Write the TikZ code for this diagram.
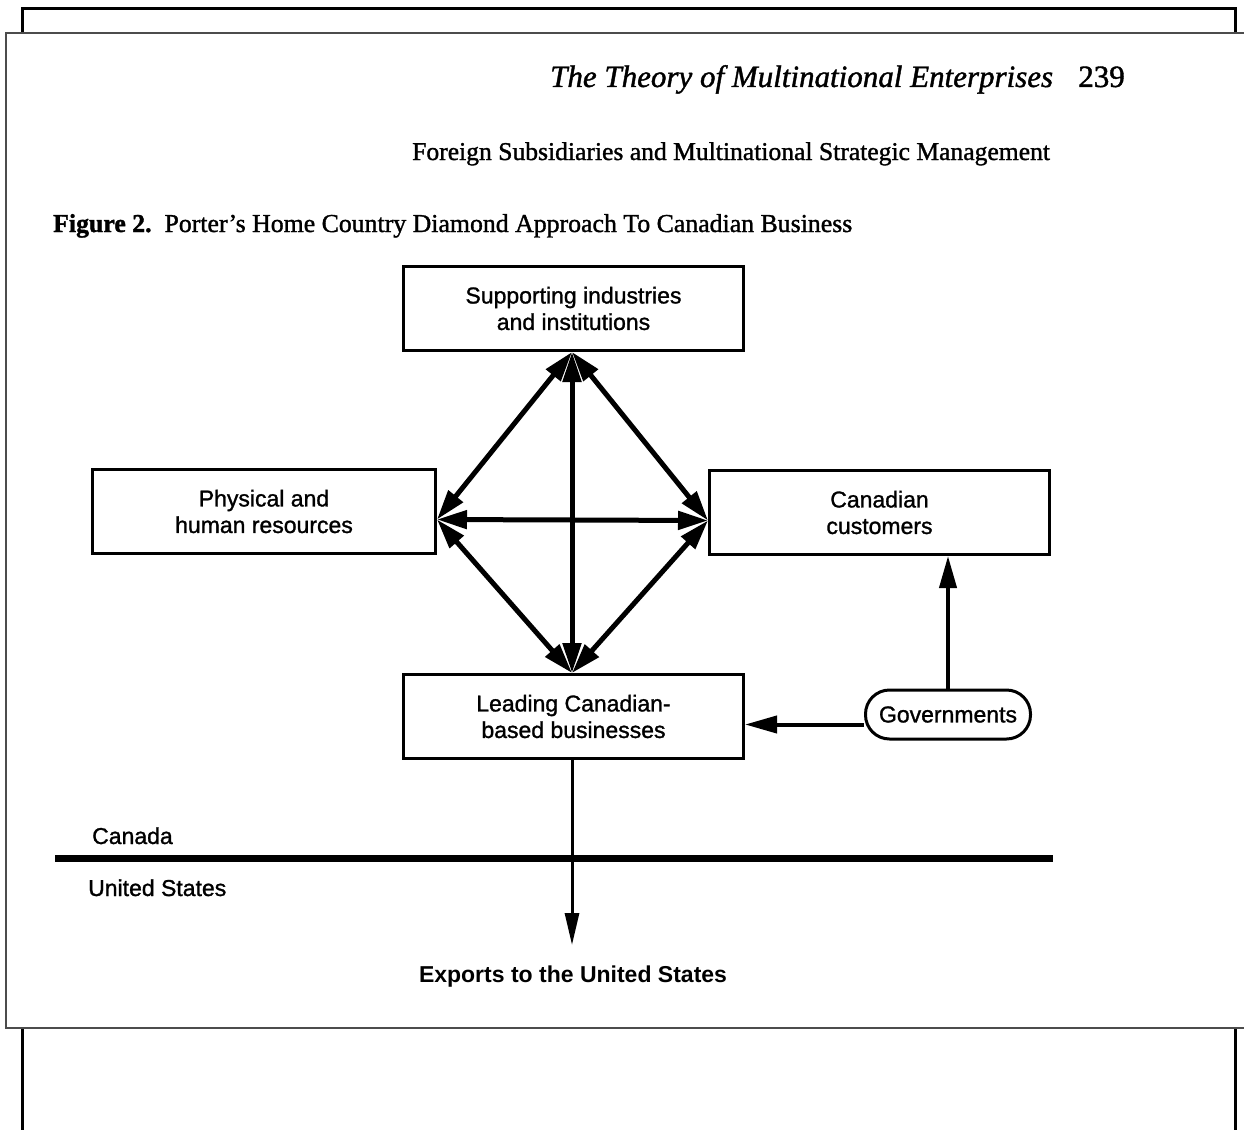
\documentclass[tikz,border=0pt]{standalone}
\usepackage{fontspec}
\setmainfont{Liberation Serif}
\setsansfont{Liberation Sans}
\newfontfamily\scanserif{Liberation Serif}[FakeBold=1.3]
\newfontfamily\scansans{Liberation Sans}[FakeBold=1.2]
\usetikzlibrary{arrows.meta,calc}
\begin{document}
\begin{tikzpicture}[x=1pt,y=-1pt,
  sfont/.style={font=\scansans\fontsize{23}{26.5}\selectfont},
  box/.style={draw,line width=3pt,minimum width=340pt,minimum height=84pt,inner sep=0pt,align=center,sfont},
  pill/.style={draw,line width=3pt,rounded corners=24pt,minimum width=165pt,minimum height=49pt,inner sep=0pt,sfont},
  dbl/.style={line width=5pt,{Triangle[length=30pt,width=18pt]}-{Triangle[length=30pt,width=18pt]}},
  sgl/.style={line width=4pt,-{Triangle[length=32pt,width=17pt]}},
  lbl/.style={sfont,inner sep=0pt}
]
\useasboundingbox (0,0) rectangle (1244,1129);
% page frames
\draw[line width=3pt] (22,1140) -- (22,8.5) -- (1235,8.5) -- (1235,1140);
\draw[gray!60!black,line width=2pt,fill=white] (6,33) rectangle (1252,1028);
% headings
\node[anchor=base west,inner sep=0pt,font=\scanserif\fontsize{31}{31}\selectfont\itshape] (runhead) at (550,87) {The Theory of Multinational Enterprises};
\node[anchor=base east,inner sep=0pt,font=\scanserif\fontsize{31}{31}\selectfont] (pageno) at (1125,87) {239};
\node[anchor=base west,inner sep=0pt,font=\scanserif\fontsize{25.6}{25.6}\selectfont] (sect) at (412,160) {Foreign Subsidiaries and Multinational Strategic Management};
\node[anchor=base west,inner sep=0pt,font=\scanserif\fontsize{25.8}{25.8}\selectfont] (cap) at (53,232) {\textbf{Figure 2.}\ \ Porter’s Home Country Diamond Approach To Canadian Business};
% boxes
\node[box] (top) at (573.5,308.5) {Supporting industries\\and institutions};
\node[box,minimum width=343pt] (left) at (264,511.5) {Physical and\\human resources};
\node[box] (right) at (879.5,512.5) {Canadian\\customers};
\node[box] (bot) at (573.5,716.5) {Leading Canadian-\\based businesses};
\node[pill] (gov) at (948,714.5) {Governments};
% diamond points
\coordinate (pT) at ([xshift=-1.5pt]top.south);
\coordinate (pL) at ([yshift=-8pt]left.east);
\coordinate (pR) at ([yshift=-8pt]right.west);
\coordinate (pB) at ([xshift=-1.5pt]bot.north);
\draw[dbl] (pT) -- (pL);
\draw[dbl] (pT) -- (pR);
\draw[dbl] (pT) -- (pB);
\draw[dbl] (pL) -- (pR);
\draw[dbl] (pL) -- (pB);
\draw[dbl] (pR) -- (pB);
% governments
\draw[sgl] ([yshift=-10pt]gov.west) -- ([yshift=-10pt]gov.west -| bot.east);
\draw[sgl] (gov.north) -- (gov.north |- right.south);
% border
\draw[line width=7pt] (55,858) -- (1053,858);
\node[lbl,anchor=base west] (canada) at (92,844) {Canada};
\node[lbl,anchor=base west] (us) at (88,896) {United States};
\node[lbl,anchor=base,font=\sffamily\bfseries\fontsize{23}{26.5}\selectfont] (exports) at (573,982) {Exports to the United States};
\coordinate (exTip) at (572,945);
\draw[line width=3pt,-{Triangle[length=32pt,width=14pt]}] ([xshift=-1.5pt]bot.south) -- (exTip);
\end{tikzpicture}
\end{document}
